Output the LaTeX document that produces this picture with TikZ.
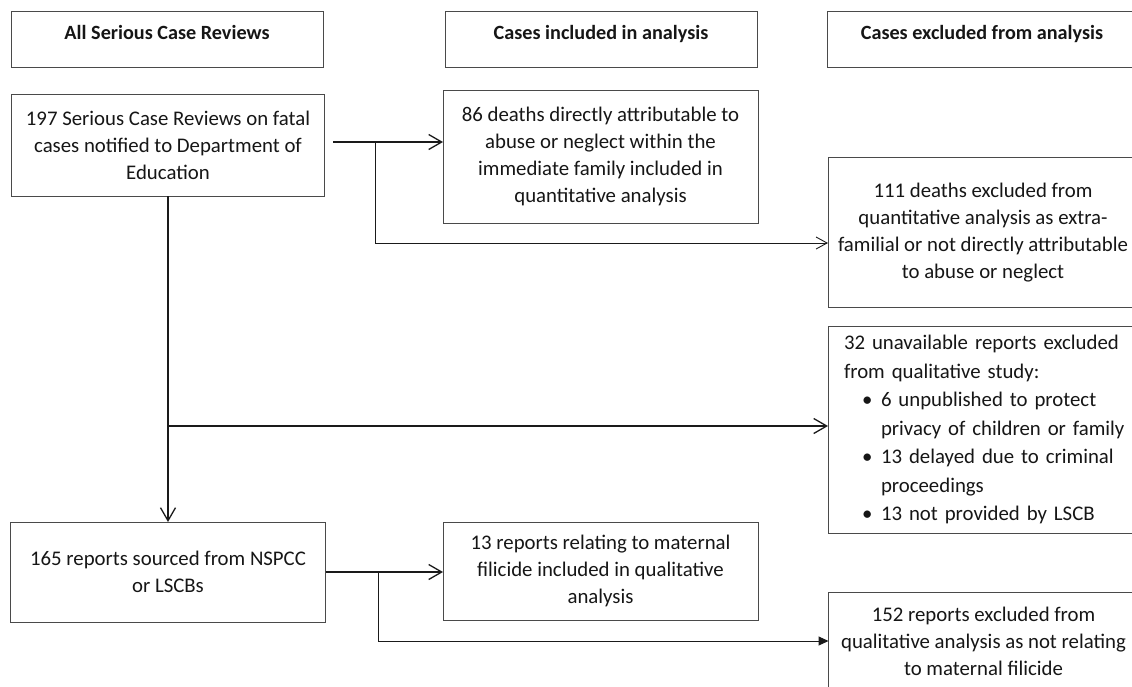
\documentclass[tikz,border=0pt]{standalone}
\usepackage{fontspec}
\setmainfont{Carlito}
\usetikzlibrary{arrows.meta,calc}
\definecolor{bordergray}{HTML}{4A4A4A}
\definecolor{txtcol}{HTML}{161616}
\definecolor{linecol}{HTML}{1A1A1A}
\newcommand{\bulline}[1]{\mbox{\makebox[37pt][l]{\hspace{18pt}\textbullet}#1}}
\newcommand{\indline}[1]{\mbox{\hspace*{37pt}#1}}
\begin{document}
\begin{tikzpicture}[x=1pt,y=-1pt,
  every node/.style={inner sep=0pt, outer sep=0pt},
  box/.style={draw=bordergray, line width=0.9pt, fill=white, align=center, text=txtcol, font=\fontsize{20.8}{27}\selectfont},
  hdr/.style={box, font=\fontsize{20.2}{24}\bfseries\selectfont, text height=14pt, text depth=14pt},
  conn/.style={draw=linecol, line width=1.5pt},
  thinconn/.style={draw=linecol, line width=1pt},
  barb/.style={-{Straight Barb[length=13pt,width=15pt,line width=1.3pt]}},
  barbsmall/.style={-{Straight Barb[length=11pt,width=12pt,line width=0.9pt]}},
  tri/.style={-{Triangle[length=10pt,width=9pt]}}
]
\useasboundingbox (0,0) rectangle (1132,686);
\fill[white] (0,0) rectangle (1132,686);

% header boxes
\node[hdr, minimum width=312pt, minimum height=56pt] (h1) at (167,39) {All Serious Case Reviews};
\node[hdr, minimum width=312pt, minimum height=56pt] (h2) at (601,39) {Cases included in analysis};
\node[hdr, minimum width=310pt, minimum height=56pt] (h3) at (982,39) {Cases excluded from analysis};

% content boxes
\node[box, minimum width=313pt, minimum height=102pt] (b197) at (168,145)
  {197 Serious Case Reviews on fatal\\cases notified to Department of\\Education};
\node[box, minimum width=315pt, minimum height=133pt] (b86) at (600.5,156.5)
  {86 deaths directly attributable to\\abuse or neglect within the\\immediate family included in\\quantitative analysis};
\node[box, minimum width=310pt, minimum height=150pt] (b111) at (983,232.5)
  {111 deaths excluded from\\quantitative analysis as extra-\\familial or not directly attributable\\to abuse or neglect};
\node[box, minimum width=310pt, minimum height=207pt, align=left, text width=278pt,
      font=\fontsize{20.8}{28.5}\selectfont] (b32) at (983,429.5)
  {\mbox{32 unavailable reports excluded}\\
   \mbox{from qualitative study:}\\
   \bulline{6 unpublished to protect}\\
   \indline{privacy of children or family}\\
   \bulline{13 delayed due to criminal}\\
   \indline{proceedings}\\
   \bulline{13 not provided by LSCB}};
\node[box, minimum width=315pt, minimum height=100pt] (b165) at (168,572)
  {165 reports sourced from NSPCC\\or LSCBs};
\node[box, minimum width=315pt, minimum height=98pt] (b13) at (600.5,571)
  {13 reports relating to maternal\\filicide included in qualitative\\analysis};
\node[box, minimum width=310pt, minimum height=98pt] (b152) at (983.5,641)
  {152 reports excluded from\\qualitative analysis as not relating\\to maternal filicide};

% connectors
\coordinate (s1) at (333,142);
\coordinate (j1) at (375,142);
\coordinate (j1e) at (375,243);
\coordinate (j2) at (168,426);
\coordinate (j3) at (378,572);

\draw[conn, barb] (s1) -- (s1 -| b86.west);
\draw[thinconn, barbsmall] (j1) -- (j1e) -- (j1e -| b111.west);
\draw[conn, barb] (b197.south) -- (b165.north);
\draw[conn, barb] (j2) -- (j2 -| b32.west);
\draw[conn, barb] (b165.east) -- (b165.east -| b13.west);
\draw[thinconn, tri] (j3) |- (b152.west);
\end{tikzpicture}
\end{document}
